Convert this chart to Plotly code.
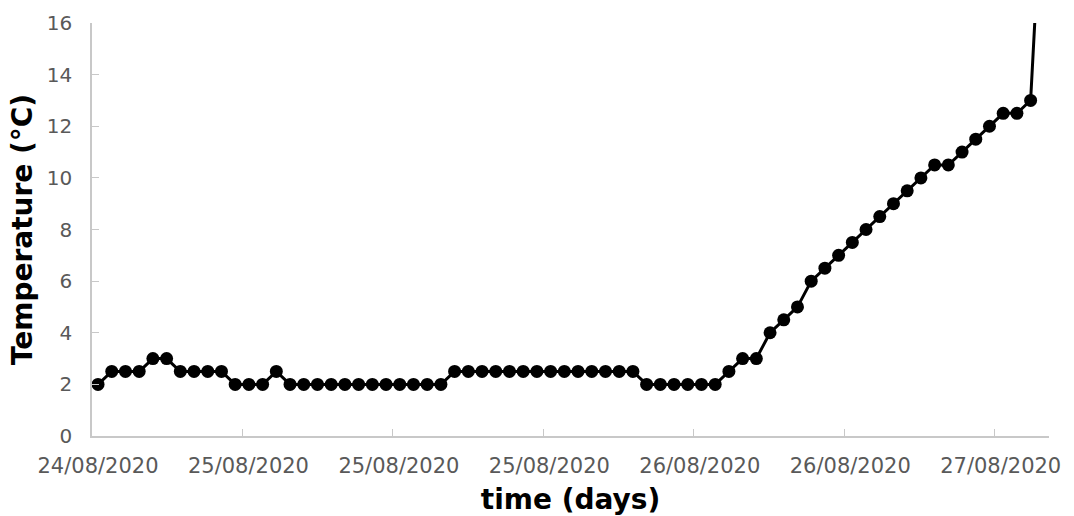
import plotly.graph_objects as go

# Temperature readings (°C), one per sample
temperature = [
    2, 2.5, 2.5, 2.5, 3, 3, 2.5, 2.5, 2.5, 2.5,
    2, 2, 2, 2.5, 2, 2, 2, 2, 2, 2,
    2, 2, 2, 2, 2, 2, 2.5, 2.5, 2.5, 2.5,
    2.5, 2.5, 2.5, 2.5, 2.5, 2.5, 2.5, 2.5, 2.5, 2.5,
    2, 2, 2, 2, 2, 2, 2.5, 3, 3, 4,
    4.5, 5, 6, 6.5, 7, 7.5, 8, 8.5, 9, 9.5,
    10, 10.5, 10.5, 11, 11.5, 12, 12.5, 12.5, 13, 23,
]
sample = list(range(len(temperature)))

x_tick_labels = ["24/08/2020", "25/08/2020", "25/08/2020", "25/08/2020",
                 "26/08/2020", "26/08/2020", "27/08/2020"]
y_tick_values = [0, 2, 4, 6, 8, 10, 12, 14, 16]

# axis layout (in sample units)
x_start = -0.44
tick_step = 10.97
x_end = 69.34
x_tick_positions = [x_start + i * tick_step for i in range(len(x_tick_labels))]

FONT = "DejaVu Sans"
GREY_TXT = "#595959"
AXIS_COL = "#c8c8c8"

fig = go.Figure()
fig.add_trace(go.Scatter(
    x=sample, y=temperature, mode="lines+markers",
    line=dict(color="black", width=3),
    marker=dict(color="black", size=13, line=dict(width=0)),
    cliponaxis=False,
    showlegend=False,
))

fig.update_layout(
    width=1074, height=516,
    margin=dict(l=92, r=25, t=23, b=80),
    paper_bgcolor="white", plot_bgcolor="white",
    font=dict(family=FONT, size=21, color=GREY_TXT),
)
fig.update_xaxes(
    range=[x_start, x_end], automargin=False,
    tickmode="array", tickvals=x_tick_positions, ticktext=x_tick_labels,
    ticks="inside", ticklen=7, tickcolor=AXIS_COL, tickwidth=1,
    showline=True, linecolor=AXIS_COL, linewidth=1.5,
    showgrid=False, zeroline=False,
    ticklabelstandoff=10, ticklabelshift=6,
    tickfont=dict(family=FONT, size=21, color=GREY_TXT),
    title=dict(text="<b>time (days)</b>", standoff=17,
               font=dict(family=FONT, size=28, color="black")),
)
fig.update_yaxes(
    range=[0, 16], automargin=False,
    tickmode="array", tickvals=y_tick_values,
    ticks="inside", ticklen=7, tickcolor=AXIS_COL, tickwidth=1,
    showline=True, linecolor=AXIS_COL, linewidth=1.5,
    showgrid=False, zeroline=False,
    ticklabelstandoff=14,
    tickfont=dict(family=FONT, size=20, color=GREY_TXT),
    title=dict(text="<b>Temperature (°C)</b>", standoff=6,
               font=dict(family=FONT, size=28, color="black")),
)

fig.write_html("out.html", config={"displayModeBar": False},
               post_script="document.body.style.margin='0';")
